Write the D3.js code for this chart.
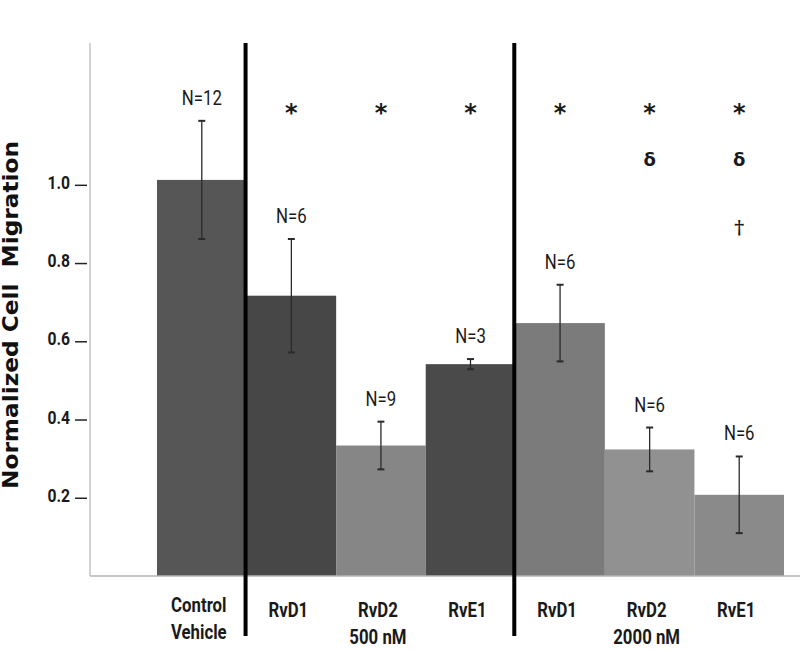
<!DOCTYPE html>
<html>
<head>
<meta charset="utf-8">
<script src="https://cdn.jsdelivr.net/npm/d3@7/dist/d3.min.js"></script>
<style>
  html, body { margin: 0; padding: 0; background: #fff; }
  svg { display: block; }
</style>
</head>
<body>
<svg id="chart" width="800" height="651"></svg>
<script>
// ---- data ----
const categories = ["Control", "RvD1 500", "RvD2 500", "RvE1 500", "RvD1 2000", "RvD2 2000", "RvE1 2000"];
const labelLine1 = ["Control", "RvD1", "RvD2", "RvE1", "RvD1", "RvD2", "RvE1"];
const labelLine2 = ["Vehicle", "", "500 nM", "", "", "2000 nM", ""];
const means = [1.01, 0.714, 0.331, 0.539, 0.644, 0.321, 0.205];
const errors = [0.151, 0.145, 0.061, 0.013, 0.098, 0.056, 0.098];
const nLabels = ["N=12", "N=6", "N=9", "N=3", "N=6", "N=6", "N=6"];
const sigStar = [false, true, true, true, true, true, true];
const sigDelta = [false, false, false, false, false, true, true];
const sigDagger = [false, false, false, false, false, false, true];
const barColors = ["#565656", "#474747", "#868686", "#4a4a4a", "#7b7b7b", "#919191", "#8a8a8a"];
const yTicks = [0.2, 0.4, 0.6, 0.8, 1.0];
const groupStarts = ["RvD1 500", "RvD1 2000"];

// ---- layout ----
const svg = d3.select("#chart");
const axisX = 90, baseY = 576, topY = 43;
const x = d3.scaleBand().domain(categories).range([157, 784]).padding(0);
const y = d3.scaleLinear().domain([0, 1.36]).range([575, topY]);
const FONT = "Roboto, 'Liberation Sans', sans-serif";

// condensed text helper
function ctext(parent, cx, cy, str, size, sx, weight, anchor) {
  const g = parent.append("g").attr("transform", `translate(${cx},${cy}) scale(${sx},1)`);
  g.append("text").attr("x", 0).attr("y", 0).attr("dy", "0.35em")
    .attr("text-anchor", anchor || "middle")
    .attr("font-family", FONT).attr("font-size", size)
    .attr("font-weight", weight || "normal").attr("fill", "#1a1a1a")
    .text(str);
  return g;
}

// bars
svg.append("g").selectAll("rect").data(categories).join("rect")
  .attr("x", d => x(d))
  .attr("y", (d, i) => y(means[i]))
  .attr("width", x.bandwidth())
  .attr("height", (d, i) => baseY - y(means[i]))
  .attr("fill", (d, i) => barColors[i]);

// x axis baseline
svg.append("line").attr("x1", axisX).attr("x2", 800).attr("y1", baseY).attr("y2", baseY)
  .attr("stroke", "#b5b5b5").attr("stroke-width", 1.5);

// y axis (scale + ticks via d3 axis)
const yAxis = svg.append("g").attr("transform", `translate(${axisX},0)`)
  .call(d3.axisLeft(y).tickValues(yTicks).tickSize(0).tickFormat(d3.format(".1f")));
yAxis.select(".domain").remove();
yAxis.append("line").attr("x1", 0).attr("x2", 0).attr("y1", topY).attr("y2", baseY)
  .attr("stroke", "#b5b5b5").attr("stroke-width", 1.2);
yAxis.selectAll(".tick line").remove();
yAxis.selectAll(".tick").append("line")
  .attr("x1", -15).attr("x2", -3).attr("y1", 1).attr("y2", 1)
  .attr("stroke", "#222").attr("stroke-width", 1.5);
yAxis.selectAll(".tick").each(function(d) {
  const t = d3.select(this);
  t.select("text").remove();
  ctext(t, -20, -2, d3.format(".1f")(d), 18.5, 0.85, "bold", "end");
});

// y title
svg.append("text")
  .attr("transform", "translate(18,315) rotate(-90)")
  .attr("text-anchor", "middle")
  .attr("font-family", "'DejaVu Sans', Verdana, sans-serif")
  .attr("font-weight", "bold").attr("font-size", 21).attr("fill", "#111")
  .attr("textLength", 348).attr("lengthAdjust", "spacingAndGlyphs")
  .attr("xml:space", "preserve")
  .text("Normalized Cell  Migration");

// error bars
const eb = svg.append("g").attr("stroke", "#2a2a2a").attr("stroke-width", 1.3);
categories.forEach((c, i) => {
  const cx = x(c) + x.bandwidth() / 2;
  const y1 = y(means[i] + errors[i]), y2 = y(means[i] - errors[i]);
  eb.append("line").attr("x1", cx).attr("x2", cx).attr("y1", y1).attr("y2", y2);
  eb.append("line").attr("x1", cx - 3.5).attr("x2", cx + 3.5).attr("y1", y1).attr("y2", y1).attr("stroke-width", 2);
  eb.append("line").attr("x1", cx - 3.5).attr("x2", cx + 3.5).attr("y1", y2).attr("y2", y2).attr("stroke-width", 2);
});

// N labels
const nl = svg.append("g");
categories.forEach((c, i) => {
  ctext(nl, x(c) + x.bandwidth() / 2, y(means[i] + errors[i]) - 23, nLabels[i], 20, 0.84, "normal");
});

// significance symbols
const sym = svg.append("g").attr("text-anchor", "middle").attr("fill", "#1a1a1a");
categories.forEach((c, i) => {
  const cx = x(c) + x.bandwidth() / 2;
  if (sigStar[i]) sym.append("text").attr("x", cx).attr("y", 121)
    .attr("font-family", "'DejaVu Sans', sans-serif").attr("font-weight", "bold").attr("font-size", 24).text("*");
  if (sigDelta[i]) sym.append("text").attr("x", cx).attr("y", 166)
    .attr("font-family", "'DejaVu Sans', sans-serif").attr("font-weight", "bold").attr("font-size", 18).text("δ");
  if (sigDagger[i]) sym.append("text").attr("x", cx).attr("y", 234)
    .attr("font-family", "'DejaVu Serif', serif").attr("font-weight", "bold").attr("font-size", 19).text("†");
});

// group separator lines
svg.append("g").selectAll("line").data(groupStarts).join("line")
  .attr("x1", d => x(d) - 1).attr("x2", d => x(d) - 1)
  .attr("y1", topY).attr("y2", 636)
  .attr("stroke", "#000").attr("stroke-width", 4);

// x labels
const xl = svg.append("g");
categories.forEach((c, i) => {
  const cx = x(c) + x.bandwidth() / 2 - 3;
  const off = i === 0 ? -5 : 0;
  ctext(xl, cx, 610 + off, labelLine1[i], 20, 0.84, "bold");
  if (labelLine2[i]) ctext(xl, cx, 637 + off, labelLine2[i], 20, 0.84, "bold");
});
</script>
</body>
</html>
